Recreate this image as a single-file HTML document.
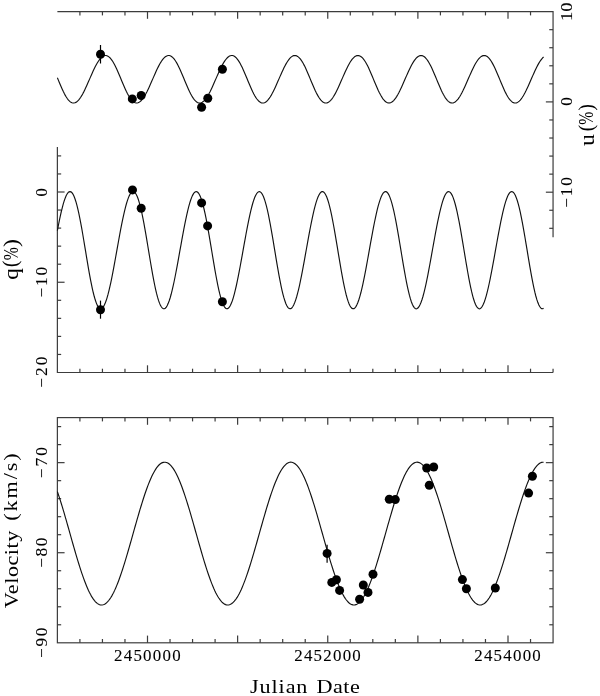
<!DOCTYPE html>
<html><head><meta charset="utf-8"><style>
html,body{margin:0;padding:0;background:#fff;}
body{width:600px;height:696px;overflow:hidden;font-family:"Liberation Sans",sans-serif;}
svg{display:block;}
svg{will-change:transform}
</style></head><body>
<svg width="600" height="696" viewBox="0 0 600 696">
<path d="M57.38 11.60 L553.06 11.60 L553.06 237.35" fill="none" stroke="#3c3c3c" stroke-width="1.2" stroke-linejoin="miter"/>
<line x1="79.91" y1="11.60" x2="79.91" y2="15.40" stroke="#3c3c3c" stroke-width="1.2"/>
<line x1="102.44" y1="11.60" x2="102.44" y2="15.40" stroke="#3c3c3c" stroke-width="1.2"/>
<line x1="124.97" y1="11.60" x2="124.97" y2="15.40" stroke="#3c3c3c" stroke-width="1.2"/>
<line x1="147.50" y1="11.60" x2="147.50" y2="18.80" stroke="#3c3c3c" stroke-width="1.2"/>
<line x1="170.03" y1="11.60" x2="170.03" y2="15.40" stroke="#3c3c3c" stroke-width="1.2"/>
<line x1="192.56" y1="11.60" x2="192.56" y2="15.40" stroke="#3c3c3c" stroke-width="1.2"/>
<line x1="215.09" y1="11.60" x2="215.09" y2="15.40" stroke="#3c3c3c" stroke-width="1.2"/>
<line x1="237.62" y1="11.60" x2="237.62" y2="18.80" stroke="#3c3c3c" stroke-width="1.2"/>
<line x1="260.16" y1="11.60" x2="260.16" y2="15.40" stroke="#3c3c3c" stroke-width="1.2"/>
<line x1="282.69" y1="11.60" x2="282.69" y2="15.40" stroke="#3c3c3c" stroke-width="1.2"/>
<line x1="305.22" y1="11.60" x2="305.22" y2="15.40" stroke="#3c3c3c" stroke-width="1.2"/>
<line x1="327.75" y1="11.60" x2="327.75" y2="18.80" stroke="#3c3c3c" stroke-width="1.2"/>
<line x1="350.28" y1="11.60" x2="350.28" y2="15.40" stroke="#3c3c3c" stroke-width="1.2"/>
<line x1="372.81" y1="11.60" x2="372.81" y2="15.40" stroke="#3c3c3c" stroke-width="1.2"/>
<line x1="395.34" y1="11.60" x2="395.34" y2="15.40" stroke="#3c3c3c" stroke-width="1.2"/>
<line x1="417.88" y1="11.60" x2="417.88" y2="18.80" stroke="#3c3c3c" stroke-width="1.2"/>
<line x1="440.41" y1="11.60" x2="440.41" y2="15.40" stroke="#3c3c3c" stroke-width="1.2"/>
<line x1="462.94" y1="11.60" x2="462.94" y2="15.40" stroke="#3c3c3c" stroke-width="1.2"/>
<line x1="485.47" y1="11.60" x2="485.47" y2="15.40" stroke="#3c3c3c" stroke-width="1.2"/>
<line x1="508.00" y1="11.60" x2="508.00" y2="18.80" stroke="#3c3c3c" stroke-width="1.2"/>
<line x1="530.53" y1="11.60" x2="530.53" y2="15.40" stroke="#3c3c3c" stroke-width="1.2"/>
<line x1="553.06" y1="29.66" x2="549.26" y2="29.66" stroke="#3c3c3c" stroke-width="1.2"/>
<line x1="553.06" y1="47.72" x2="549.26" y2="47.72" stroke="#3c3c3c" stroke-width="1.2"/>
<line x1="553.06" y1="65.78" x2="549.26" y2="65.78" stroke="#3c3c3c" stroke-width="1.2"/>
<line x1="553.06" y1="83.84" x2="549.26" y2="83.84" stroke="#3c3c3c" stroke-width="1.2"/>
<line x1="553.06" y1="101.90" x2="545.86" y2="101.90" stroke="#3c3c3c" stroke-width="1.2"/>
<line x1="553.06" y1="119.96" x2="549.26" y2="119.96" stroke="#3c3c3c" stroke-width="1.2"/>
<line x1="553.06" y1="138.02" x2="549.26" y2="138.02" stroke="#3c3c3c" stroke-width="1.2"/>
<line x1="553.06" y1="156.08" x2="549.26" y2="156.08" stroke="#3c3c3c" stroke-width="1.2"/>
<line x1="553.06" y1="174.14" x2="549.26" y2="174.14" stroke="#3c3c3c" stroke-width="1.2"/>
<line x1="553.06" y1="192.20" x2="545.86" y2="192.20" stroke="#3c3c3c" stroke-width="1.2"/>
<line x1="553.06" y1="210.26" x2="549.26" y2="210.26" stroke="#3c3c3c" stroke-width="1.2"/>
<line x1="553.06" y1="228.32" x2="549.26" y2="228.32" stroke="#3c3c3c" stroke-width="1.2"/>
<path d="M57.38 146.88 L57.38 372.50 L553.06 372.50" fill="none" stroke="#3c3c3c" stroke-width="1.2" stroke-linejoin="miter"/>
<line x1="57.38" y1="155.90" x2="61.17" y2="155.90" stroke="#3c3c3c" stroke-width="1.2"/>
<line x1="57.38" y1="173.95" x2="61.17" y2="173.95" stroke="#3c3c3c" stroke-width="1.2"/>
<line x1="57.38" y1="192.00" x2="64.58" y2="192.00" stroke="#3c3c3c" stroke-width="1.2"/>
<line x1="57.38" y1="210.05" x2="61.17" y2="210.05" stroke="#3c3c3c" stroke-width="1.2"/>
<line x1="57.38" y1="228.10" x2="61.17" y2="228.10" stroke="#3c3c3c" stroke-width="1.2"/>
<line x1="57.38" y1="246.15" x2="61.17" y2="246.15" stroke="#3c3c3c" stroke-width="1.2"/>
<line x1="57.38" y1="264.20" x2="61.17" y2="264.20" stroke="#3c3c3c" stroke-width="1.2"/>
<line x1="57.38" y1="282.25" x2="64.58" y2="282.25" stroke="#3c3c3c" stroke-width="1.2"/>
<line x1="57.38" y1="300.30" x2="61.17" y2="300.30" stroke="#3c3c3c" stroke-width="1.2"/>
<line x1="57.38" y1="318.35" x2="61.17" y2="318.35" stroke="#3c3c3c" stroke-width="1.2"/>
<line x1="57.38" y1="336.40" x2="61.17" y2="336.40" stroke="#3c3c3c" stroke-width="1.2"/>
<line x1="57.38" y1="354.45" x2="61.17" y2="354.45" stroke="#3c3c3c" stroke-width="1.2"/>
<line x1="79.91" y1="372.50" x2="79.91" y2="368.70" stroke="#3c3c3c" stroke-width="1.2"/>
<line x1="102.44" y1="372.50" x2="102.44" y2="368.70" stroke="#3c3c3c" stroke-width="1.2"/>
<line x1="124.97" y1="372.50" x2="124.97" y2="368.70" stroke="#3c3c3c" stroke-width="1.2"/>
<line x1="147.50" y1="372.50" x2="147.50" y2="365.30" stroke="#3c3c3c" stroke-width="1.2"/>
<line x1="170.03" y1="372.50" x2="170.03" y2="368.70" stroke="#3c3c3c" stroke-width="1.2"/>
<line x1="192.56" y1="372.50" x2="192.56" y2="368.70" stroke="#3c3c3c" stroke-width="1.2"/>
<line x1="215.09" y1="372.50" x2="215.09" y2="368.70" stroke="#3c3c3c" stroke-width="1.2"/>
<line x1="237.62" y1="372.50" x2="237.62" y2="365.30" stroke="#3c3c3c" stroke-width="1.2"/>
<line x1="260.16" y1="372.50" x2="260.16" y2="368.70" stroke="#3c3c3c" stroke-width="1.2"/>
<line x1="282.69" y1="372.50" x2="282.69" y2="368.70" stroke="#3c3c3c" stroke-width="1.2"/>
<line x1="305.22" y1="372.50" x2="305.22" y2="368.70" stroke="#3c3c3c" stroke-width="1.2"/>
<line x1="327.75" y1="372.50" x2="327.75" y2="365.30" stroke="#3c3c3c" stroke-width="1.2"/>
<line x1="350.28" y1="372.50" x2="350.28" y2="368.70" stroke="#3c3c3c" stroke-width="1.2"/>
<line x1="372.81" y1="372.50" x2="372.81" y2="368.70" stroke="#3c3c3c" stroke-width="1.2"/>
<line x1="395.34" y1="372.50" x2="395.34" y2="368.70" stroke="#3c3c3c" stroke-width="1.2"/>
<line x1="417.88" y1="372.50" x2="417.88" y2="365.30" stroke="#3c3c3c" stroke-width="1.2"/>
<line x1="440.41" y1="372.50" x2="440.41" y2="368.70" stroke="#3c3c3c" stroke-width="1.2"/>
<line x1="462.94" y1="372.50" x2="462.94" y2="368.70" stroke="#3c3c3c" stroke-width="1.2"/>
<line x1="485.47" y1="372.50" x2="485.47" y2="368.70" stroke="#3c3c3c" stroke-width="1.2"/>
<line x1="508.00" y1="372.50" x2="508.00" y2="365.30" stroke="#3c3c3c" stroke-width="1.2"/>
<line x1="530.53" y1="372.50" x2="530.53" y2="368.70" stroke="#3c3c3c" stroke-width="1.2"/>
<line x1="553.06" y1="372.50" x2="553.06" y2="368.70" stroke="#3c3c3c" stroke-width="1.2"/>
<rect x="57.38" y="417.60" width="495.69" height="225.20" fill="none" stroke="#3c3c3c" stroke-width="1.2"/>
<line x1="79.91" y1="417.60" x2="79.91" y2="421.40" stroke="#3c3c3c" stroke-width="1.2"/>
<line x1="102.44" y1="417.60" x2="102.44" y2="421.40" stroke="#3c3c3c" stroke-width="1.2"/>
<line x1="124.97" y1="417.60" x2="124.97" y2="421.40" stroke="#3c3c3c" stroke-width="1.2"/>
<line x1="147.50" y1="417.60" x2="147.50" y2="424.80" stroke="#3c3c3c" stroke-width="1.2"/>
<line x1="170.03" y1="417.60" x2="170.03" y2="421.40" stroke="#3c3c3c" stroke-width="1.2"/>
<line x1="192.56" y1="417.60" x2="192.56" y2="421.40" stroke="#3c3c3c" stroke-width="1.2"/>
<line x1="215.09" y1="417.60" x2="215.09" y2="421.40" stroke="#3c3c3c" stroke-width="1.2"/>
<line x1="237.62" y1="417.60" x2="237.62" y2="424.80" stroke="#3c3c3c" stroke-width="1.2"/>
<line x1="260.16" y1="417.60" x2="260.16" y2="421.40" stroke="#3c3c3c" stroke-width="1.2"/>
<line x1="282.69" y1="417.60" x2="282.69" y2="421.40" stroke="#3c3c3c" stroke-width="1.2"/>
<line x1="305.22" y1="417.60" x2="305.22" y2="421.40" stroke="#3c3c3c" stroke-width="1.2"/>
<line x1="327.75" y1="417.60" x2="327.75" y2="424.80" stroke="#3c3c3c" stroke-width="1.2"/>
<line x1="350.28" y1="417.60" x2="350.28" y2="421.40" stroke="#3c3c3c" stroke-width="1.2"/>
<line x1="372.81" y1="417.60" x2="372.81" y2="421.40" stroke="#3c3c3c" stroke-width="1.2"/>
<line x1="395.34" y1="417.60" x2="395.34" y2="421.40" stroke="#3c3c3c" stroke-width="1.2"/>
<line x1="417.88" y1="417.60" x2="417.88" y2="424.80" stroke="#3c3c3c" stroke-width="1.2"/>
<line x1="440.41" y1="417.60" x2="440.41" y2="421.40" stroke="#3c3c3c" stroke-width="1.2"/>
<line x1="462.94" y1="417.60" x2="462.94" y2="421.40" stroke="#3c3c3c" stroke-width="1.2"/>
<line x1="485.47" y1="417.60" x2="485.47" y2="421.40" stroke="#3c3c3c" stroke-width="1.2"/>
<line x1="508.00" y1="417.60" x2="508.00" y2="424.80" stroke="#3c3c3c" stroke-width="1.2"/>
<line x1="530.53" y1="417.60" x2="530.53" y2="421.40" stroke="#3c3c3c" stroke-width="1.2"/>
<line x1="79.91" y1="642.80" x2="79.91" y2="639.00" stroke="#3c3c3c" stroke-width="1.2"/>
<line x1="102.44" y1="642.80" x2="102.44" y2="639.00" stroke="#3c3c3c" stroke-width="1.2"/>
<line x1="124.97" y1="642.80" x2="124.97" y2="639.00" stroke="#3c3c3c" stroke-width="1.2"/>
<line x1="147.50" y1="642.80" x2="147.50" y2="635.60" stroke="#3c3c3c" stroke-width="1.2"/>
<line x1="170.03" y1="642.80" x2="170.03" y2="639.00" stroke="#3c3c3c" stroke-width="1.2"/>
<line x1="192.56" y1="642.80" x2="192.56" y2="639.00" stroke="#3c3c3c" stroke-width="1.2"/>
<line x1="215.09" y1="642.80" x2="215.09" y2="639.00" stroke="#3c3c3c" stroke-width="1.2"/>
<line x1="237.62" y1="642.80" x2="237.62" y2="635.60" stroke="#3c3c3c" stroke-width="1.2"/>
<line x1="260.16" y1="642.80" x2="260.16" y2="639.00" stroke="#3c3c3c" stroke-width="1.2"/>
<line x1="282.69" y1="642.80" x2="282.69" y2="639.00" stroke="#3c3c3c" stroke-width="1.2"/>
<line x1="305.22" y1="642.80" x2="305.22" y2="639.00" stroke="#3c3c3c" stroke-width="1.2"/>
<line x1="327.75" y1="642.80" x2="327.75" y2="635.60" stroke="#3c3c3c" stroke-width="1.2"/>
<line x1="350.28" y1="642.80" x2="350.28" y2="639.00" stroke="#3c3c3c" stroke-width="1.2"/>
<line x1="372.81" y1="642.80" x2="372.81" y2="639.00" stroke="#3c3c3c" stroke-width="1.2"/>
<line x1="395.34" y1="642.80" x2="395.34" y2="639.00" stroke="#3c3c3c" stroke-width="1.2"/>
<line x1="417.88" y1="642.80" x2="417.88" y2="635.60" stroke="#3c3c3c" stroke-width="1.2"/>
<line x1="440.41" y1="642.80" x2="440.41" y2="639.00" stroke="#3c3c3c" stroke-width="1.2"/>
<line x1="462.94" y1="642.80" x2="462.94" y2="639.00" stroke="#3c3c3c" stroke-width="1.2"/>
<line x1="485.47" y1="642.80" x2="485.47" y2="639.00" stroke="#3c3c3c" stroke-width="1.2"/>
<line x1="508.00" y1="642.80" x2="508.00" y2="635.60" stroke="#3c3c3c" stroke-width="1.2"/>
<line x1="530.53" y1="642.80" x2="530.53" y2="639.00" stroke="#3c3c3c" stroke-width="1.2"/>
<line x1="57.38" y1="426.61" x2="61.17" y2="426.61" stroke="#3c3c3c" stroke-width="1.2"/>
<line x1="57.38" y1="444.62" x2="61.17" y2="444.62" stroke="#3c3c3c" stroke-width="1.2"/>
<line x1="57.38" y1="462.64" x2="64.58" y2="462.64" stroke="#3c3c3c" stroke-width="1.2"/>
<line x1="57.38" y1="480.66" x2="61.17" y2="480.66" stroke="#3c3c3c" stroke-width="1.2"/>
<line x1="57.38" y1="498.67" x2="61.17" y2="498.67" stroke="#3c3c3c" stroke-width="1.2"/>
<line x1="57.38" y1="516.69" x2="61.17" y2="516.69" stroke="#3c3c3c" stroke-width="1.2"/>
<line x1="57.38" y1="534.70" x2="61.17" y2="534.70" stroke="#3c3c3c" stroke-width="1.2"/>
<line x1="57.38" y1="552.72" x2="64.58" y2="552.72" stroke="#3c3c3c" stroke-width="1.2"/>
<line x1="57.38" y1="570.74" x2="61.17" y2="570.74" stroke="#3c3c3c" stroke-width="1.2"/>
<line x1="57.38" y1="588.75" x2="61.17" y2="588.75" stroke="#3c3c3c" stroke-width="1.2"/>
<line x1="57.38" y1="606.77" x2="61.17" y2="606.77" stroke="#3c3c3c" stroke-width="1.2"/>
<line x1="57.38" y1="624.78" x2="61.17" y2="624.78" stroke="#3c3c3c" stroke-width="1.2"/>
<line x1="553.06" y1="426.61" x2="549.26" y2="426.61" stroke="#3c3c3c" stroke-width="1.2"/>
<line x1="553.06" y1="444.62" x2="549.26" y2="444.62" stroke="#3c3c3c" stroke-width="1.2"/>
<line x1="553.06" y1="462.64" x2="545.86" y2="462.64" stroke="#3c3c3c" stroke-width="1.2"/>
<line x1="553.06" y1="480.66" x2="549.26" y2="480.66" stroke="#3c3c3c" stroke-width="1.2"/>
<line x1="553.06" y1="498.67" x2="549.26" y2="498.67" stroke="#3c3c3c" stroke-width="1.2"/>
<line x1="553.06" y1="516.69" x2="549.26" y2="516.69" stroke="#3c3c3c" stroke-width="1.2"/>
<line x1="553.06" y1="534.70" x2="549.26" y2="534.70" stroke="#3c3c3c" stroke-width="1.2"/>
<line x1="553.06" y1="552.72" x2="545.86" y2="552.72" stroke="#3c3c3c" stroke-width="1.2"/>
<line x1="553.06" y1="570.74" x2="549.26" y2="570.74" stroke="#3c3c3c" stroke-width="1.2"/>
<line x1="553.06" y1="588.75" x2="549.26" y2="588.75" stroke="#3c3c3c" stroke-width="1.2"/>
<line x1="553.06" y1="606.77" x2="549.26" y2="606.77" stroke="#3c3c3c" stroke-width="1.2"/>
<line x1="553.06" y1="624.78" x2="549.26" y2="624.78" stroke="#3c3c3c" stroke-width="1.2"/>
<path d="M57.38 77.79 L58.35 80.15 L59.32 82.50 L60.29 84.81 L61.26 87.07 L62.24 89.26 L63.21 91.34 L64.18 93.30 L65.15 95.13 L66.13 96.79 L67.10 98.29 L68.07 99.59 L69.04 100.70 L70.02 101.60 L70.99 102.29 L71.96 102.75 L72.93 102.99 L73.91 103.01 L74.88 102.80 L75.85 102.38 L76.82 101.74 L77.80 100.90 L78.77 99.85 L79.74 98.63 L80.71 97.22 L81.69 95.66 L82.66 93.95 L83.63 92.12 L84.60 90.17 L85.58 88.12 L86.55 86.00 L87.52 83.82 L88.49 81.60 L89.47 79.36 L90.44 77.12 L91.41 74.90 L92.38 72.72 L93.36 70.59 L94.33 68.54 L95.30 66.59 L96.27 64.74 L97.25 63.03 L98.22 61.45 L99.19 60.04 L100.16 58.79 L101.14 57.73 L102.11 56.87 L103.08 56.21 L104.05 55.76 L105.03 55.53 L106.00 55.52 L106.97 55.74 L107.94 56.17 L108.91 56.83 L109.89 57.70 L110.86 58.78 L111.83 60.06 L112.80 61.53 L113.78 63.17 L114.75 64.97 L115.72 66.92 L116.69 68.98 L117.67 71.15 L118.64 73.40 L119.61 75.71 L120.58 78.05 L121.56 80.41 L122.53 82.76 L123.50 85.07 L124.47 87.32 L125.45 89.50 L126.42 91.57 L127.39 93.51 L128.36 95.32 L129.34 96.97 L130.31 98.44 L131.28 99.73 L132.25 100.81 L133.23 101.69 L134.20 102.35 L135.17 102.79 L136.14 103.01 L137.12 103.00 L138.09 102.77 L139.06 102.32 L140.03 101.66 L141.01 100.79 L141.98 99.72 L142.95 98.48 L143.92 97.06 L144.90 95.48 L145.87 93.75 L146.84 91.90 L147.81 89.94 L148.79 87.89 L149.76 85.76 L150.73 83.57 L151.70 81.35 L152.68 79.11 L153.65 76.87 L154.62 74.66 L155.59 72.48 L156.56 70.36 L157.54 68.32 L158.51 66.37 L159.48 64.54 L160.45 62.84 L161.43 61.28 L162.40 59.89 L163.37 58.66 L164.34 57.63 L165.32 56.79 L166.29 56.15 L167.26 55.73 L168.23 55.52 L169.21 55.54 L170.18 55.78 L171.15 56.24 L172.12 56.92 L173.10 57.81 L174.07 58.92 L175.04 60.22 L176.01 61.71 L176.99 63.37 L177.96 65.18 L178.93 67.14 L179.90 69.22 L180.88 71.40 L181.85 73.66 L182.82 75.97 L183.79 78.32 L184.77 80.68 L185.74 83.02 L186.71 85.33 L187.68 87.57 L188.66 89.73 L189.63 91.79 L190.60 93.72 L191.57 95.51 L192.55 97.14 L193.52 98.60 L194.49 99.86 L195.46 100.92 L196.44 101.77 L197.41 102.41 L198.38 102.83 L199.35 103.02 L200.33 102.98 L201.30 102.73 L202.27 102.25 L203.24 101.57 L204.21 100.68 L205.19 99.59 L206.16 98.33 L207.13 96.89 L208.10 95.29 L209.08 93.55 L210.05 91.69 L211.02 89.72 L211.99 87.65 L212.97 85.52 L213.94 83.32 L214.91 81.10 L215.88 78.86 L216.86 76.62 L217.83 74.41 L218.80 72.24 L219.77 70.13 L220.75 68.10 L221.72 66.16 L222.69 64.35 L223.66 62.66 L224.64 61.12 L225.61 59.74 L226.58 58.54 L227.55 57.52 L228.53 56.70 L229.50 56.09 L230.47 55.69 L231.44 55.51 L232.42 55.55 L233.39 55.82 L234.36 56.30 L235.33 57.01 L236.31 57.93 L237.28 59.05 L238.25 60.38 L239.22 61.89 L240.20 63.56 L241.17 65.40 L242.14 67.37 L243.11 69.46 L244.09 71.65 L245.06 73.91 L246.03 76.23 L247.00 78.58 L247.98 80.94 L248.95 83.28 L249.92 85.58 L250.89 87.82 L251.87 89.97 L252.84 92.02 L253.81 93.93 L254.78 95.71 L255.75 97.32 L256.73 98.75 L257.70 99.99 L258.67 101.03 L259.64 101.86 L260.62 102.47 L261.59 102.86 L262.56 103.02 L263.53 102.97 L264.51 102.69 L265.48 102.19 L266.45 101.48 L267.42 100.57 L268.40 99.46 L269.37 98.17 L270.34 96.71 L271.31 95.10 L272.29 93.35 L273.26 91.47 L274.23 89.49 L275.20 87.41 L276.18 85.27 L277.15 83.08 L278.12 80.85 L279.09 78.61 L280.07 76.37 L281.04 74.16 L282.01 72.00 L282.98 69.89 L283.96 67.87 L284.93 65.95 L285.90 64.15 L286.87 62.48 L287.85 60.96 L288.82 59.60 L289.79 58.41 L290.76 57.42 L291.74 56.62 L292.71 56.04 L293.68 55.66 L294.65 55.50 L295.63 55.57 L296.60 55.86 L297.57 56.37 L298.54 57.10 L299.52 58.05 L300.49 59.19 L301.46 60.54 L302.43 62.07 L303.40 63.76 L304.38 65.61 L305.35 67.60 L306.32 69.70 L307.29 71.90 L308.27 74.17 L309.24 76.50 L310.21 78.85 L311.18 81.20 L312.16 83.54 L313.13 85.84 L314.10 88.06 L315.07 90.21 L316.05 92.24 L317.02 94.14 L317.99 95.89 L318.96 97.49 L319.94 98.90 L320.91 100.12 L321.88 101.13 L322.85 101.94 L323.83 102.52 L324.80 102.89 L325.77 103.03 L326.74 102.95 L327.72 102.64 L328.69 102.12 L329.66 101.39 L330.63 100.45 L331.61 99.32 L332.58 98.02 L333.55 96.54 L334.52 94.91 L335.50 93.14 L336.47 91.25 L337.44 89.26 L338.41 87.18 L339.39 85.03 L340.36 82.83 L341.33 80.60 L342.30 78.36 L343.28 76.12 L344.25 73.92 L345.22 71.76 L346.19 69.66 L347.17 67.65 L348.14 65.74 L349.11 63.95 L350.08 62.30 L351.05 60.80 L352.03 59.46 L353.00 58.29 L353.97 57.32 L354.94 56.55 L355.92 55.98 L356.89 55.63 L357.86 55.50 L358.83 55.59 L359.81 55.91 L360.78 56.44 L361.75 57.20 L362.72 58.16 L363.70 59.34 L364.67 60.70 L365.64 62.25 L366.61 63.96 L367.59 65.83 L368.56 67.83 L369.53 69.94 L370.50 72.15 L371.48 74.43 L372.45 76.76 L373.42 79.11 L374.39 81.47 L375.37 83.80 L376.34 86.09 L377.31 88.31 L378.28 90.44 L379.26 92.46 L380.23 94.34 L381.20 96.08 L382.17 97.65 L383.15 99.04 L384.12 100.24 L385.09 101.23 L386.06 102.01 L387.04 102.58 L388.01 102.92 L388.98 103.03 L389.95 102.92 L390.93 102.59 L391.90 102.05 L392.87 101.29 L393.84 100.33 L394.82 99.19 L395.79 97.86 L396.76 96.36 L397.73 94.72 L398.70 92.94 L399.68 91.03 L400.65 89.03 L401.62 86.94 L402.59 84.78 L403.57 82.58 L404.54 80.35 L405.51 78.10 L406.48 75.87 L407.46 73.67 L408.43 71.52 L409.40 69.43 L410.37 67.43 L411.35 65.54 L412.32 63.76 L413.29 62.12 L414.26 60.64 L415.24 59.32 L416.21 58.17 L417.18 57.22 L418.15 56.47 L419.13 55.93 L420.10 55.61 L421.07 55.50 L422.04 55.62 L423.02 55.96 L423.99 56.52 L424.96 57.30 L425.93 58.29 L426.91 59.48 L427.88 60.87 L428.85 62.43 L429.82 64.17 L430.80 66.05 L431.77 68.06 L432.74 70.19 L433.71 72.41 L434.69 74.69 L435.66 77.02 L436.63 79.38 L437.60 81.73 L438.58 84.06 L439.55 86.34 L440.52 88.55 L441.49 90.67 L442.47 92.68 L443.44 94.55 L444.41 96.27 L445.38 97.82 L446.36 99.19 L447.33 100.36 L448.30 101.33 L449.27 102.09 L450.24 102.62 L451.22 102.94 L452.19 103.03 L453.16 102.90 L454.13 102.54 L455.11 101.97 L456.08 101.19 L457.05 100.21 L458.02 99.05 L459.00 97.70 L459.97 96.19 L460.94 94.53 L461.91 92.73 L462.89 90.81 L463.86 88.80 L464.83 86.70 L465.80 84.54 L466.78 82.33 L467.75 80.09 L468.72 77.85 L469.69 75.62 L470.67 73.43 L471.64 71.28 L472.61 69.20 L473.58 67.21 L474.56 65.33 L475.53 63.57 L476.50 61.95 L477.47 60.48 L478.45 59.18 L479.42 58.06 L480.39 57.13 L481.36 56.40 L482.34 55.88 L483.31 55.58 L484.28 55.50 L485.25 55.64 L486.23 56.01 L487.20 56.59 L488.17 57.40 L489.14 58.41 L490.12 59.63 L491.09 61.03 L492.06 62.62 L493.03 64.37 L494.01 66.27 L494.98 68.30 L495.95 70.43 L496.92 72.66 L497.89 74.95 L498.87 77.29 L499.84 79.64 L500.81 82.00 L501.78 84.32 L502.76 86.60 L503.73 88.80 L504.70 90.90 L505.67 92.89 L506.65 94.75 L507.62 96.45 L508.59 97.98 L509.56 99.33 L510.54 100.48 L511.51 101.43 L512.48 102.16 L513.45 102.67 L514.43 102.96 L515.40 103.03 L516.37 102.87 L517.34 102.49 L518.32 101.89 L519.29 101.09 L520.26 100.09 L521.23 98.90 L522.21 97.54 L523.18 96.01 L524.15 94.33 L525.12 92.52 L526.10 90.59 L527.07 88.57 L528.04 86.46 L529.01 84.29 L529.99 82.08 L530.96 79.84 L531.93 77.60 L532.90 75.37 L533.88 73.18 L534.85 71.04 L535.82 68.97 L536.79 67.00 L537.77 65.13 L538.74 63.38 L539.71 61.77 L540.68 60.32 L541.66 59.04 L542.63 57.94 L543.60 57.04" fill="none" stroke="#111" stroke-width="1.15"/>
<path d="M57.38 230.54 L58.35 225.49 L59.32 220.64 L60.29 216.05 L61.26 211.75 L62.24 207.77 L63.21 204.15 L64.18 200.94 L65.15 198.16 L66.13 195.83 L67.10 194.00 L68.07 192.67 L69.04 191.86 L70.02 191.60 L70.99 191.88 L71.96 192.72 L72.93 194.11 L73.91 196.04 L74.88 198.49 L75.85 201.46 L76.82 204.91 L77.80 208.82 L78.77 213.15 L79.74 217.85 L80.71 222.89 L81.69 228.21 L82.66 233.76 L83.63 239.48 L84.60 245.31 L85.58 251.20 L86.55 257.07 L87.52 262.88 L88.49 268.55 L89.47 274.04 L90.44 279.28 L91.41 284.22 L92.38 288.81 L93.36 293.01 L94.33 296.77 L95.30 300.06 L96.27 302.86 L97.25 305.13 L98.22 306.87 L99.19 308.05 L100.16 308.67 L101.14 308.74 L102.11 308.25 L103.08 307.23 L104.05 305.68 L105.03 303.62 L106.00 301.08 L106.97 298.09 L107.94 294.68 L108.91 290.88 L109.89 286.73 L110.86 282.27 L111.83 277.54 L112.80 272.58 L113.78 267.44 L114.75 262.15 L115.72 256.77 L116.69 251.33 L117.67 245.89 L118.64 240.48 L119.61 235.16 L120.58 229.96 L121.56 224.93 L122.53 220.12 L123.50 215.55 L124.47 211.28 L125.45 207.34 L126.42 203.77 L127.39 200.60 L128.36 197.87 L129.34 195.60 L130.31 193.82 L131.28 192.55 L132.25 191.81 L133.23 191.60 L134.20 191.95 L135.17 192.85 L136.14 194.30 L137.12 196.29 L138.09 198.80 L139.06 201.83 L140.03 205.33 L141.01 209.29 L141.98 213.66 L142.95 218.40 L143.92 223.48 L144.90 228.82 L145.87 234.39 L146.84 240.13 L147.81 245.97 L148.79 251.86 L149.76 257.73 L150.73 263.52 L151.70 269.18 L152.68 274.64 L153.65 279.85 L154.62 284.75 L155.59 289.30 L156.56 293.45 L157.54 297.16 L158.51 300.40 L159.48 303.14 L160.45 305.36 L161.43 307.03 L162.40 308.15 L163.37 308.71 L164.34 308.71 L165.32 308.17 L166.29 307.08 L167.26 305.47 L168.23 303.36 L169.21 300.77 L170.18 297.73 L171.15 294.27 L172.12 290.43 L173.10 286.24 L174.07 281.75 L175.04 276.99 L176.01 272.01 L176.99 266.85 L177.96 261.55 L178.93 256.16 L179.90 250.72 L180.88 245.28 L181.85 239.88 L182.82 234.57 L183.79 229.39 L184.77 224.38 L185.74 219.59 L186.71 215.06 L187.68 210.82 L188.66 206.92 L189.63 203.40 L190.60 200.28 L191.57 197.59 L192.55 195.38 L193.52 193.65 L194.49 192.44 L195.46 191.76 L196.44 191.62 L197.41 192.02 L198.38 192.98 L199.35 194.49 L200.33 196.54 L201.30 199.12 L202.27 202.20 L203.24 205.75 L204.21 209.76 L205.19 214.18 L206.16 218.96 L207.13 224.06 L208.10 229.44 L209.08 235.03 L210.05 240.78 L211.02 246.63 L211.99 252.52 L212.97 258.38 L213.94 264.17 L214.91 269.80 L215.88 275.24 L216.86 280.41 L217.83 285.28 L218.80 289.79 L219.77 293.89 L220.75 297.55 L221.72 300.74 L222.69 303.42 L223.66 305.57 L224.64 307.18 L225.61 308.24 L226.58 308.74 L227.55 308.68 L228.53 308.07 L229.50 306.92 L230.47 305.26 L231.44 303.09 L232.42 300.45 L233.39 297.36 L234.36 293.86 L235.33 289.98 L236.31 285.75 L237.28 281.23 L238.25 276.44 L239.22 271.44 L240.20 266.26 L241.17 260.95 L242.14 255.55 L243.11 250.11 L244.09 244.67 L245.06 239.28 L246.03 233.98 L247.00 228.81 L247.98 223.83 L248.95 219.07 L249.92 214.57 L250.89 210.37 L251.87 206.51 L252.84 203.02 L253.81 199.95 L254.78 197.32 L255.75 195.16 L256.73 193.49 L257.70 192.34 L258.67 191.71 L259.64 191.63 L260.62 192.10 L261.59 193.13 L262.56 194.70 L263.53 196.81 L264.51 199.44 L265.48 202.57 L266.45 206.18 L267.42 210.24 L268.40 214.70 L269.37 219.52 L270.34 224.66 L271.31 230.06 L272.29 235.67 L273.26 241.43 L274.23 247.29 L275.20 253.18 L276.18 259.04 L277.15 264.81 L278.12 270.42 L279.09 275.83 L280.07 280.98 L281.04 285.81 L282.01 290.27 L282.98 294.32 L283.96 297.93 L284.93 301.06 L285.90 303.69 L286.87 305.78 L287.85 307.33 L288.82 308.32 L289.79 308.76 L290.76 308.64 L291.74 307.97 L292.71 306.76 L293.68 305.04 L294.65 302.82 L295.63 300.12 L296.60 296.98 L297.57 293.44 L298.54 289.52 L299.52 285.26 L300.49 280.70 L301.46 275.89 L302.43 270.86 L303.40 265.67 L304.38 260.34 L305.35 254.94 L306.32 249.50 L307.29 244.06 L308.27 238.68 L309.24 233.39 L310.21 228.25 L311.18 223.28 L312.16 218.55 L313.13 214.08 L314.10 209.91 L315.07 206.10 L316.05 202.66 L317.02 199.63 L317.99 197.05 L318.96 194.95 L319.94 193.33 L320.91 192.24 L321.88 191.68 L322.85 191.66 L323.83 192.19 L324.80 193.28 L325.77 194.91 L326.74 197.08 L327.72 199.77 L328.69 202.95 L329.66 206.62 L330.63 210.72 L331.61 215.22 L332.58 220.08 L333.55 225.25 L334.52 230.68 L335.50 236.31 L336.47 242.09 L337.44 247.95 L338.41 253.84 L339.39 259.69 L340.36 265.45 L341.33 271.04 L342.30 276.42 L343.28 281.54 L344.25 286.33 L345.22 290.75 L346.19 294.75 L347.17 298.31 L348.14 301.38 L349.11 303.95 L350.08 305.98 L351.05 307.47 L352.03 308.40 L353.00 308.77 L353.97 308.59 L354.94 307.86 L355.92 306.59 L356.89 304.81 L357.86 302.54 L358.83 299.79 L359.81 296.61 L360.78 293.02 L361.75 289.05 L362.72 284.76 L363.70 280.17 L364.67 275.34 L365.64 270.29 L366.61 265.07 L367.59 259.74 L368.56 254.33 L369.53 248.88 L370.50 243.45 L371.48 238.08 L372.45 232.81 L373.42 227.68 L374.39 222.74 L375.37 218.03 L376.34 213.59 L377.31 209.47 L378.28 205.69 L379.26 202.30 L380.23 199.32 L381.20 196.79 L382.17 194.74 L383.15 193.19 L384.12 192.15 L385.09 191.65 L386.06 191.69 L387.04 192.29 L388.01 193.43 L388.98 195.12 L389.95 197.35 L390.93 200.10 L391.90 203.34 L392.87 207.06 L393.84 211.20 L394.82 215.75 L395.79 220.65 L396.76 225.85 L397.73 231.30 L398.70 236.95 L399.68 242.74 L400.65 248.61 L401.62 254.50 L402.59 260.34 L403.57 266.08 L404.54 271.66 L405.51 277.01 L406.48 282.09 L407.46 286.84 L408.43 291.22 L409.40 295.18 L410.37 298.68 L411.35 301.70 L412.32 304.20 L413.29 306.17 L414.26 307.60 L415.24 308.47 L416.21 308.78 L417.18 308.53 L418.15 307.74 L419.13 306.42 L420.10 304.58 L421.07 302.25 L422.04 299.45 L423.02 296.22 L423.99 292.59 L424.96 288.59 L425.93 284.26 L426.91 279.64 L427.88 274.78 L428.85 269.71 L429.82 264.48 L430.80 259.13 L431.77 253.72 L432.74 248.27 L433.71 242.84 L434.69 237.48 L435.66 232.22 L436.63 227.11 L437.60 222.20 L438.58 217.52 L439.55 213.11 L440.52 209.03 L441.49 205.29 L442.47 201.94 L443.44 199.01 L444.41 196.54 L445.38 194.54 L446.36 193.04 L447.33 192.07 L448.30 191.63 L449.27 191.73 L450.24 192.39 L451.22 193.60 L452.19 195.35 L453.16 197.64 L454.13 200.44 L455.11 203.74 L456.08 207.50 L457.05 211.70 L458.02 216.28 L459.00 221.22 L459.97 226.45 L460.94 231.93 L461.91 237.60 L462.89 243.40 L463.86 249.28 L464.83 255.16 L465.80 261.00 L466.78 266.72 L467.75 272.27 L468.72 277.60 L469.69 282.64 L470.67 287.35 L471.64 291.68 L472.61 295.59 L473.58 299.04 L474.56 302.00 L475.53 304.45 L476.50 306.36 L477.47 307.72 L478.45 308.53 L479.42 308.78 L480.39 308.47 L481.36 307.62 L482.34 306.24 L483.31 304.34 L484.28 301.96 L485.25 299.11 L486.23 295.83 L487.20 292.16 L488.17 288.12 L489.14 283.75 L490.12 279.11 L491.09 274.22 L492.06 269.13 L493.03 263.89 L494.01 258.53 L494.98 253.11 L495.95 247.66 L496.92 242.24 L497.89 236.88 L498.87 231.64 L499.84 226.55 L500.81 221.66 L501.78 217.01 L502.76 212.64 L503.73 208.59 L504.70 204.89 L505.67 201.59 L506.65 198.71 L507.62 196.29 L508.59 194.35 L509.56 192.91 L510.54 191.99 L511.51 191.61 L512.48 191.78 L513.45 192.50 L514.43 193.77 L515.40 195.58 L516.37 197.93 L517.34 200.79 L518.32 204.14 L519.29 207.95 L520.26 212.19 L521.23 216.82 L522.21 221.79 L523.18 227.05 L524.15 232.56 L525.12 238.24 L526.10 244.06 L527.07 249.94 L528.04 255.82 L529.01 261.65 L529.99 267.35 L530.96 272.88 L531.93 278.18 L532.90 283.19 L533.88 287.86 L534.85 292.14 L535.82 296.00 L536.79 299.40 L537.77 302.31 L538.74 304.69 L539.71 306.54 L540.68 307.84 L541.66 308.59 L542.63 308.77 L543.60 308.40" fill="none" stroke="#111" stroke-width="1.15"/>
<path d="M57.38 491.62 L58.35 494.46 L59.32 497.40 L60.29 500.42 L61.26 503.52 L62.24 506.69 L63.21 509.92 L64.18 513.21 L65.15 516.54 L66.13 519.92 L67.10 523.33 L68.07 526.76 L69.04 530.20 L70.02 533.66 L70.99 537.12 L71.96 540.56 L72.93 543.99 L73.91 547.40 L74.88 550.77 L75.85 554.11 L76.82 557.39 L77.80 560.62 L78.77 563.79 L79.74 566.89 L80.71 569.91 L81.69 572.84 L82.66 575.68 L83.63 578.42 L84.60 581.06 L85.58 583.58 L86.55 585.99 L87.52 588.28 L88.49 590.44 L89.47 592.46 L90.44 594.35 L91.41 596.09 L92.38 597.69 L93.36 599.14 L94.33 600.43 L95.30 601.57 L96.27 602.55 L97.25 603.37 L98.22 604.02 L99.19 604.51 L100.16 604.83 L101.14 604.98 L102.11 604.97 L103.08 604.79 L104.05 604.45 L105.03 603.93 L106.00 603.26 L106.97 602.42 L107.94 601.41 L108.91 600.25 L109.89 598.94 L110.86 597.47 L111.83 595.85 L112.80 594.08 L113.78 592.17 L114.75 590.13 L115.72 587.95 L116.69 585.65 L117.67 583.22 L118.64 580.68 L119.61 578.02 L120.58 575.27 L121.56 572.41 L122.53 569.47 L123.50 566.44 L124.47 563.33 L125.45 560.15 L126.42 556.91 L127.39 553.62 L128.36 550.28 L129.34 546.90 L130.31 543.49 L131.28 540.06 L132.25 536.61 L133.23 533.15 L134.20 529.70 L135.17 526.25 L136.14 522.82 L137.12 519.42 L138.09 516.05 L139.06 512.72 L140.03 509.44 L141.01 506.22 L141.98 503.06 L142.95 499.97 L143.92 496.96 L144.90 494.04 L145.87 491.21 L146.84 488.48 L147.81 485.85 L148.79 483.34 L149.76 480.94 L150.73 478.67 L151.70 476.53 L152.68 474.52 L153.65 472.65 L154.62 470.92 L155.59 469.34 L156.56 467.91 L157.54 466.63 L158.51 465.51 L159.48 464.55 L160.45 463.75 L161.43 463.12 L162.40 462.65 L163.37 462.34 L164.34 462.21 L165.32 462.24 L166.29 462.44 L167.26 462.80 L168.23 463.33 L169.21 464.03 L170.18 464.89 L171.15 465.91 L172.12 467.09 L173.10 468.42 L174.07 469.91 L175.04 471.54 L176.01 473.33 L176.99 475.25 L177.96 477.31 L178.93 479.50 L179.90 481.82 L180.88 484.26 L181.85 486.81 L182.82 489.48 L183.79 492.25 L184.77 495.11 L185.74 498.07 L186.71 501.11 L187.68 504.22 L188.66 507.41 L189.63 510.65 L190.60 513.95 L191.57 517.30 L192.55 520.68 L193.52 524.09 L194.49 527.53 L195.46 530.98 L196.44 534.44 L197.41 537.89 L198.38 541.34 L199.35 544.76 L200.33 548.16 L201.30 551.53 L202.27 554.85 L203.24 558.13 L204.21 561.34 L205.19 564.49 L206.16 567.57 L207.13 570.57 L208.10 573.48 L209.08 576.30 L210.05 579.02 L211.02 581.64 L211.99 584.14 L212.97 586.52 L213.94 588.78 L214.91 590.90 L215.88 592.90 L216.86 594.75 L217.83 596.47 L218.80 598.03 L219.77 599.44 L220.75 600.70 L221.72 601.81 L222.69 602.75 L223.66 603.53 L224.64 604.14 L225.61 604.59 L226.58 604.88 L227.55 605.00 L228.53 604.95 L229.50 604.73 L230.47 604.35 L231.44 603.80 L232.42 603.08 L233.39 602.21 L234.36 601.17 L235.33 599.97 L236.31 598.62 L237.28 597.12 L238.25 595.46 L239.22 593.66 L240.20 591.73 L241.17 589.65 L242.14 587.44 L243.11 585.11 L244.09 582.66 L245.06 580.09 L246.03 577.41 L247.00 574.63 L247.98 571.76 L248.95 568.79 L249.92 565.75 L250.89 562.62 L251.87 559.43 L252.84 556.18 L253.81 552.87 L254.78 549.52 L255.75 546.14 L256.73 542.72 L257.70 539.28 L258.67 535.83 L259.64 532.38 L260.62 528.92 L261.59 525.48 L262.56 522.06 L263.53 518.66 L264.51 515.30 L265.48 511.98 L266.45 508.71 L267.42 505.50 L268.40 502.36 L269.37 499.29 L270.34 496.30 L271.31 493.39 L272.29 490.59 L273.26 487.88 L274.23 485.28 L275.20 482.79 L276.18 480.42 L277.15 478.18 L278.12 476.06 L279.09 474.09 L280.07 472.25 L281.04 470.55 L282.01 469.00 L282.98 467.61 L283.96 466.36 L284.93 465.28 L285.90 464.36 L286.87 463.59 L287.85 463.00 L288.82 462.57 L289.79 462.30 L290.76 462.20 L291.74 462.27 L292.71 462.51 L293.68 462.91 L294.65 463.48 L295.63 464.21 L296.60 465.10 L297.57 466.16 L298.54 467.37 L299.52 468.74 L300.49 470.26 L301.46 471.93 L302.43 473.75 L303.40 475.70 L304.38 477.79 L305.35 480.01 L306.32 482.36 L307.29 484.82 L308.27 487.40 L309.24 490.09 L310.21 492.88 L311.18 495.77 L312.16 498.75 L313.13 501.80 L314.10 504.93 L315.07 508.13 L316.05 511.39 L317.02 514.70 L317.99 518.05 L318.96 521.45 L319.94 524.86 L320.91 528.30 L321.88 531.76 L322.85 535.21 L323.83 538.67 L324.80 542.11 L325.77 545.53 L326.74 548.92 L327.72 552.28 L328.69 555.59 L329.66 558.85 L330.63 562.06 L331.61 565.19 L332.58 568.25 L333.55 571.23 L334.52 574.13 L335.50 576.92 L336.47 579.62 L337.44 582.21 L338.41 584.68 L339.39 587.04 L340.36 589.27 L341.33 591.36 L342.30 593.33 L343.28 595.15 L344.25 596.83 L345.22 598.36 L346.19 599.74 L347.17 600.96 L348.14 602.03 L349.11 602.94 L350.08 603.68 L351.05 604.26 L352.03 604.67 L353.00 604.92 L353.97 605.00 L354.94 604.91 L355.92 604.66 L356.89 604.24 L357.86 603.65 L358.83 602.90 L359.81 601.99 L360.78 600.91 L361.75 599.68 L362.72 598.29 L363.70 596.76 L364.67 595.07 L365.64 593.24 L366.61 591.27 L367.59 589.17 L368.56 586.93 L369.53 584.57 L370.50 582.09 L371.48 579.50 L372.45 576.80 L373.42 574.00 L374.39 571.10 L375.37 568.12 L376.34 565.05 L377.31 561.91 L378.28 558.71 L379.26 555.44 L380.23 552.13 L381.20 548.77 L382.17 545.37 L383.15 541.95 L384.12 538.51 L385.09 535.06 L386.06 531.60 L387.04 528.15 L388.01 524.71 L388.98 521.29 L389.95 517.90 L390.93 514.55 L391.90 511.24 L392.87 507.98 L393.84 504.79 L394.82 501.66 L395.79 498.61 L396.76 495.64 L397.73 492.75 L398.70 489.97 L399.68 487.28 L400.65 484.71 L401.62 482.25 L402.59 479.91 L403.57 477.69 L404.54 475.61 L405.51 473.66 L406.48 471.85 L407.46 470.19 L408.43 468.68 L409.40 467.31 L410.37 466.11 L411.35 465.06 L412.32 464.17 L413.29 463.45 L414.26 462.89 L415.24 462.49 L416.21 462.26 L417.18 462.20 L418.15 462.31 L419.13 462.58 L420.10 463.02 L421.07 463.63 L422.04 464.40 L423.02 465.33 L423.99 466.42 L424.96 467.67 L425.93 469.07 L426.91 470.63 L427.88 472.33 L428.85 474.17 L429.82 476.16 L430.80 478.28 L431.77 480.53 L432.74 482.90 L433.71 485.39 L434.69 488.00 L435.66 490.71 L436.63 493.52 L437.60 496.43 L438.58 499.43 L439.55 502.50 L440.52 505.65 L441.49 508.86 L442.47 512.13 L443.44 515.45 L444.41 518.81 L445.38 522.21 L446.36 525.64 L447.33 529.08 L448.30 532.53 L449.27 535.99 L450.24 539.44 L451.22 542.88 L452.19 546.29 L453.16 549.68 L454.13 553.03 L455.11 556.33 L456.08 559.58 L457.05 562.77 L458.02 565.89 L459.00 568.93 L459.97 571.89 L460.94 574.76 L461.91 577.54 L462.89 580.21 L463.86 582.77 L464.83 585.22 L465.80 587.55 L466.78 589.75 L467.75 591.82 L468.72 593.75 L469.69 595.54 L470.67 597.19 L471.64 598.68 L472.61 600.03 L473.58 601.22 L474.56 602.25 L475.53 603.12 L476.50 603.82 L477.47 604.37 L478.45 604.74 L479.42 604.95 L480.39 604.99 L481.36 604.87 L482.34 604.58 L483.31 604.12 L484.28 603.50 L485.25 602.71 L486.23 601.76 L487.20 600.65 L488.17 599.38 L489.14 597.96 L490.12 596.39 L491.09 594.67 L492.06 592.81 L493.03 590.81 L494.01 588.68 L494.98 586.41 L495.95 584.02 L496.92 581.52 L497.89 578.90 L498.87 576.18 L499.84 573.35 L500.81 570.44 L501.78 567.43 L502.76 564.35 L503.73 561.20 L504.70 557.98 L505.67 554.70 L506.65 551.37 L507.62 548.01 L508.59 544.61 L509.56 541.18 L510.54 537.73 L511.51 534.28 L512.48 530.82 L513.45 527.37 L514.43 523.94 L515.40 520.53 L516.37 517.14 L517.34 513.80 L518.32 510.50 L519.29 507.26 L520.26 504.08 L521.23 500.97 L522.21 497.93 L523.18 494.98 L524.15 492.12 L525.12 489.36 L526.10 486.70 L527.07 484.15 L528.04 481.71 L529.01 479.40 L529.99 477.21 L530.96 475.16 L531.93 473.24 L532.90 471.47 L533.88 469.84 L534.85 468.36 L535.82 467.03 L536.79 465.86 L537.77 464.85 L538.74 463.99 L539.71 463.31 L540.68 462.78 L541.66 462.42 L542.63 462.23 L543.60 462.21" fill="none" stroke="#111" stroke-width="1.15"/>
<line x1="100.50" y1="45.00" x2="100.50" y2="63.50" stroke="#000" stroke-width="1.2"/>
<circle cx="100.50" cy="54.25" r="4.50" fill="#000"/>
<circle cx="132.30" cy="98.90" r="4.50" fill="#000"/>
<circle cx="141.20" cy="95.50" r="4.50" fill="#000"/>
<circle cx="201.60" cy="107.30" r="4.50" fill="#000"/>
<circle cx="207.80" cy="98.20" r="4.50" fill="#000"/>
<circle cx="222.40" cy="69.20" r="4.50" fill="#000"/>
<line x1="100.50" y1="300.60" x2="100.50" y2="318.70" stroke="#000" stroke-width="1.2"/>
<circle cx="100.50" cy="309.70" r="4.50" fill="#000"/>
<circle cx="132.50" cy="189.90" r="4.50" fill="#000"/>
<circle cx="141.20" cy="208.30" r="4.50" fill="#000"/>
<circle cx="201.60" cy="202.90" r="4.50" fill="#000"/>
<circle cx="207.60" cy="225.90" r="4.50" fill="#000"/>
<circle cx="222.40" cy="301.70" r="4.50" fill="#000"/>
<line x1="327.10" y1="544.70" x2="327.10" y2="562.80" stroke="#000" stroke-width="1.2"/>
<circle cx="327.10" cy="553.40" r="4.50" fill="#000"/>
<circle cx="331.80" cy="582.40" r="4.50" fill="#000"/>
<circle cx="336.40" cy="579.80" r="4.50" fill="#000"/>
<circle cx="339.60" cy="590.40" r="4.50" fill="#000"/>
<circle cx="359.60" cy="599.30" r="4.50" fill="#000"/>
<circle cx="363.30" cy="585.00" r="4.50" fill="#000"/>
<circle cx="368.00" cy="592.40" r="4.50" fill="#000"/>
<circle cx="373.00" cy="574.30" r="4.50" fill="#000"/>
<circle cx="389.30" cy="499.30" r="4.50" fill="#000"/>
<circle cx="395.30" cy="499.60" r="4.50" fill="#000"/>
<circle cx="426.70" cy="468.00" r="4.50" fill="#000"/>
<circle cx="433.70" cy="467.00" r="4.50" fill="#000"/>
<circle cx="429.30" cy="485.30" r="4.50" fill="#000"/>
<circle cx="462.40" cy="579.60" r="4.50" fill="#000"/>
<circle cx="466.40" cy="588.70" r="4.50" fill="#000"/>
<circle cx="495.30" cy="588.00" r="4.50" fill="#000"/>
<circle cx="532.40" cy="476.20" r="4.50" fill="#000"/>
<circle cx="528.60" cy="493.10" r="4.50" fill="#000"/>
<text transform="translate(572.45 21.01) rotate(-90) scale(1.150 1.000)" font-family="'Liberation Serif', serif" font-size="16.20" stroke="#000" stroke-width="0.1">10</text>
<text transform="translate(571.80 105.85) rotate(-90) scale(1.064 1.000)" font-family="'Liberation Serif', serif" font-size="16.20" stroke="#000" stroke-width="0.1">0</text>
<text transform="translate(571.79 207.74) rotate(-90) scale(1.070 1.000)" font-family="'Liberation Serif', serif" font-size="16.20" textLength="28.59" lengthAdjust="spacing" stroke="#000" stroke-width="0.1">−10</text>
<text transform="translate(593.81 145.91) rotate(-90) scale(1.164 1.000)" font-family="'Liberation Serif', serif" font-size="20.50">u</text>
<text transform="translate(592.55 131.21) rotate(-90) scale(0.941 1.000)" font-family="'Liberation Serif', serif" font-size="20.50">(</text>
<text transform="translate(592.50 124.63) rotate(-90) scale(0.772 1.000)" font-family="'Liberation Serif', serif" font-size="20.33">%</text>
<text transform="translate(592.58 110.55) rotate(-90) scale(0.923 1.000)" font-family="'Liberation Serif', serif" font-size="20.50">)</text>
<text transform="translate(47.41 196.47) rotate(-90) scale(1.023 1.000)" font-family="'Liberation Serif', serif" font-size="16.20" stroke="#000" stroke-width="0.1">0</text>
<text transform="translate(47.19 297.59) rotate(-90) scale(1.070 1.000)" font-family="'Liberation Serif', serif" font-size="16.20" textLength="28.69" lengthAdjust="spacing" stroke="#000" stroke-width="0.1">−10</text>
<text transform="translate(47.02 387.71) rotate(-90) scale(1.070 1.000)" font-family="'Liberation Serif', serif" font-size="16.20" textLength="29.21" lengthAdjust="spacing" stroke="#000" stroke-width="0.1">−20</text>
<text transform="translate(17.59 279.68) rotate(-90) scale(1.129 1.000)" font-family="'Liberation Serif', serif" font-size="20.50">q</text>
<text transform="translate(17.01 266.94) rotate(-90) scale(0.924 1.000)" font-family="'Liberation Serif', serif" font-size="20.50">(</text>
<text transform="translate(17.60 260.28) rotate(-90) scale(0.772 1.000)" font-family="'Liberation Serif', serif" font-size="20.33">%</text>
<text transform="translate(17.65 247.00) rotate(-90) scale(1.180 1.000)" font-family="'Liberation Serif', serif" font-size="20.50">)</text>
<text transform="translate(47.27 478.20) rotate(-90) scale(1.070 1.000)" font-family="'Liberation Serif', serif" font-size="16.20" textLength="28.98" lengthAdjust="spacing" stroke="#000" stroke-width="0.1">−70</text>
<text transform="translate(47.46 567.86) rotate(-90) scale(1.070 1.000)" font-family="'Liberation Serif', serif" font-size="16.20" textLength="28.36" lengthAdjust="spacing" stroke="#000" stroke-width="0.1">−80</text>
<text transform="translate(47.28 658.10) rotate(-90) scale(1.070 1.000)" font-family="'Liberation Serif', serif" font-size="16.20" textLength="28.65" lengthAdjust="spacing" stroke="#000" stroke-width="0.1">−90</text>
<text transform="translate(18.10 608.22) rotate(-90) scale(1.120 1.000)" font-family="'Liberation Serif', serif" font-size="19.80" textLength="69.22" lengthAdjust="spacing">Velocity</text>
<text transform="translate(17.39 520.69) rotate(-90) scale(1.120 1.000)" font-family="'Liberation Serif', serif" font-size="19.80" textLength="60.13" lengthAdjust="spacing">(km/s)</text>
<text transform="translate(114.03 661.20) scale(1.000 1.000)" font-family="'Liberation Serif', serif" font-size="16.90" textLength="66.58" lengthAdjust="spacing" stroke="#000" stroke-width="0.1">2450000</text>
<text transform="translate(294.19 661.20) scale(1.000 1.000)" font-family="'Liberation Serif', serif" font-size="16.90" textLength="66.62" lengthAdjust="spacing" stroke="#000" stroke-width="0.1">2452000</text>
<text transform="translate(474.19 661.20) scale(1.000 1.000)" font-family="'Liberation Serif', serif" font-size="16.90" textLength="66.62" lengthAdjust="spacing" stroke="#000" stroke-width="0.1">2454000</text>
<text transform="translate(250.09 693.00) scale(1.120 1.000)" font-family="'Liberation Serif', serif" font-size="19.80" textLength="51.22" lengthAdjust="spacing">Julian</text>
<text transform="translate(316.53 693.00) scale(1.120 1.000)" font-family="'Liberation Serif', serif" font-size="19.80" textLength="38.66" lengthAdjust="spacing">Date</text>
</svg>
</body></html>
